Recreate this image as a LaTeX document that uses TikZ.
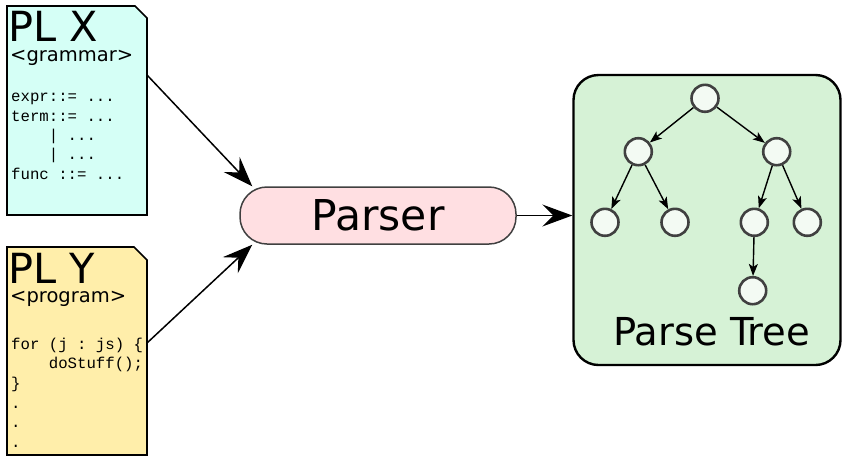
\documentclass[tikz,border=0pt]{standalone}
\usepackage{fontspec}
\setmainfont{DejaVu Sans}
\setmonofont{Liberation Mono}
\usetikzlibrary{arrows.meta}
\definecolor{gramfill}{HTML}{D5FFF6}
\definecolor{progfill}{HTML}{FFEEAA}
\definecolor{parsefill}{HTML}{FFDFE2}
\definecolor{treefill}{HTML}{D6F2D6}
\definecolor{leaffill}{HTML}{F3FAF3}
\newcommand{\codedots}{...}
\tikzset{doc/.style = {draw, line width=1.6pt},
         bigarrow/.style = {-{Stealth[length=30pt,width=22pt,inset=11pt]}, line width=1.5pt},
         treearrow/.style = {-{Stealth[length=12pt,width=9pt,inset=3pt]}, line width=1.4pt},
         vertex/.style = {circle, draw=black!75, fill=leaffill, line width=2.6pt,
                          minimum size=27pt, inner sep=0pt},
         title/.style = {anchor=base west, inner sep=0pt, font=\fontsize{41.5}{45}\selectfont},
         tag/.style = {anchor=base west, inner sep=0pt, font=\fontsize{19.5}{22}\selectfont},
         code/.style = {anchor=base west, inner sep=0pt, font=\fontsize{15.7}{18}\selectfont\ttfamily}}

\begin{document}
\begin{tikzpicture}[x=1pt, y=-1pt]
    \useasboundingbox (0, 0) rectangle (842, 456);

    \filldraw [doc, fill=gramfill] (7, 6) -- (135, 6) -- (147, 18) -- (147, 215) -- (7, 215) -- cycle;
    \filldraw [doc, fill=progfill] (7, 247) -- (134, 247) -- (147, 260) -- (147, 455) -- (7, 455) -- cycle;
    \coordinate (plx) at (147, 75);
    \coordinate (ply) at (147, 343);

    \node [title] (plxname) at (8, 41.7) {PL X};
    \node [tag] (plxtag) at (10, 61.5) {<grammar>};
    \foreach \t [count=\i] in {{expr::= \codedots}, {term::= \codedots}, {\hphantom{term}| \codedots},
                               {\hphantom{term}| \codedots}, {func ::= \codedots}} {
      \node [code] (gram\i) at (11, {101.7 + 19.4*(\i - 1)}) {\t};
    }

    \node [title] (plyname) at (8, 283.3) {PL Y};
    \node [tag] (plytag) at (10, 302.5) {<program>};
    \foreach \t [count=\i] in {{for (j : js) \{}, {\hphantom{for }doStuff();}, {\}},
                               {.}, {.}, {.}} {
      \node [code] (prog\i) at (11, {349 + 19.7*(\i - 1)}) {\t};
    }

    \node [draw=black!75, fill=parsefill, line width=1.5pt, rounded corners=27pt,
           minimum width=276pt, minimum height=57pt, inner sep=0pt,
           font=\fontsize{42.5}{46}\selectfont] (parser) at (378, 215.5) {Parser};

    \node [draw, fill=treefill, line width=2.4pt, rounded corners=25pt,
           minimum width=267pt, minimum height=290pt] (tree) at (707, 220) {};
    \node [anchor=base, inner sep=0pt, font=\fontsize{38.5}{42}\selectfont] (treename) at (711.7, 345) {Parse Tree};

    \node [vertex] (n0) at (705, 98.3) {};
    \node [vertex] (n1) at (638.3, 151.7) {};
    \node [vertex] (n2) at (776.7, 151.7) {};
    \node [vertex] (n3) at (605, 222.3) {};
    \node [vertex] (n4) at (675, 222.3) {};
    \node [vertex] (n5) at (754.3, 222.3) {};
    \node [vertex] (n6) at (807.3, 222.3) {};
    \node [vertex] (n7) at (752.7, 290.7) {};

    \foreach \a/\b in {n0/n1, n0/n2, n1/n3, n1/n4, n2/n5, n2/n6, n5/n7} {
      \draw [treearrow] (\a) -- (\b);
    }

    \draw [bigarrow] (plx) -- ([xshift=13pt]parser.north west);
    \draw [bigarrow] (ply) -- ([xshift=13pt]parser.south west);
    \draw [bigarrow] (parser.east) -- (parser.east -| tree.west);
  \end{tikzpicture}
\end{document}
